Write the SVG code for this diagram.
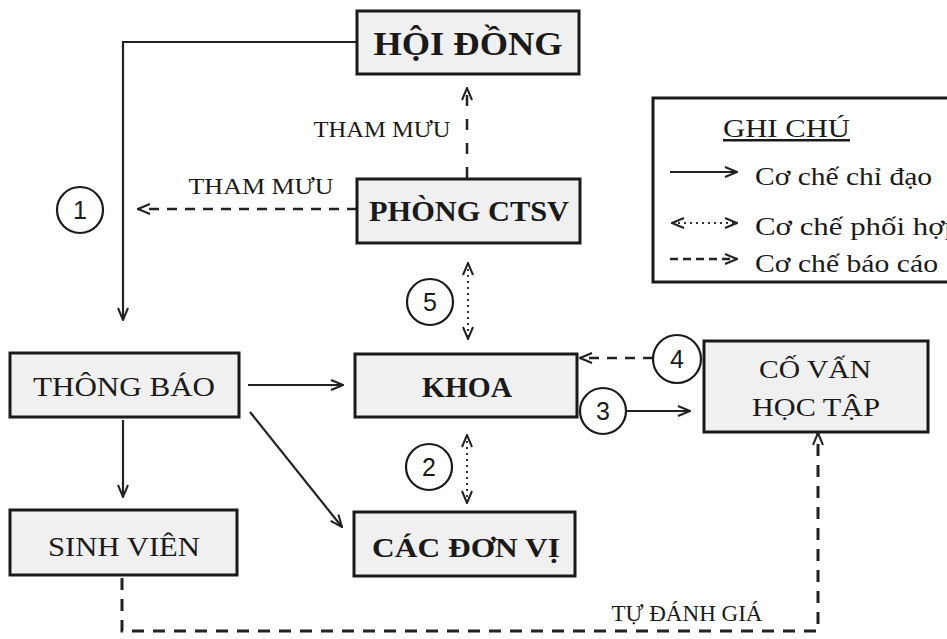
<svg xmlns="http://www.w3.org/2000/svg" width="947" height="639" viewBox="0 0 947 639">
<defs>
<marker id="ar" viewBox="0 0 14 12" refX="13" refY="6" markerWidth="14" markerHeight="12" markerUnits="userSpaceOnUse" orient="auto-start-reverse">
<path d="M1,1 L13,6 L1,11" fill="none" stroke="#222" stroke-width="2"/>
</marker>
<style>
.box{fill:#f0f0f0;stroke:#1a1a1a;stroke-width:3}
.t{font-family:"Liberation Serif","Times New Roman",serif;fill:#1a1a1a;text-anchor:middle}
.l{font-family:"Liberation Serif","Times New Roman",serif;fill:#1a1a1a}
.b{font-weight:bold}
.solid{stroke:#222;stroke-width:2.2;fill:none}
.dash{stroke:#222;stroke-width:2.5;fill:none;stroke-dasharray:10 8}
.dot{stroke:#333;stroke-width:2;fill:none;stroke-dasharray:2 4}
.num{font-family:"Liberation Sans",Arial,sans-serif;font-size:25px;text-anchor:middle;fill:#1a1a1a}
.circ{fill:#fff;stroke:#1a1a1a;stroke-width:2.2}
</style>
</defs>
<rect width="947" height="639" fill="#fff"/>

<g id="connectors">
<path class="solid" d="M357,42 H123 V320" marker-end="url(#ar)"/>
<path class="dash" style="stroke-dasharray:11 13" d="M467,178 V88" marker-end="url(#ar)"/>
<path class="dash" d="M357,209 H138" marker-end="url(#ar)"/>
<path class="dot" d="M468,263 V339" marker-start="url(#ar)" marker-end="url(#ar)"/>
<path class="dash" d="M653,358 H580" marker-end="url(#ar)"/>
<path class="solid" d="M627,411 H690" marker-end="url(#ar)"/>
<path class="solid" d="M248,385 H343" marker-end="url(#ar)"/>
<path class="solid" d="M250,412 L342,527" marker-end="url(#ar)"/>
<path class="solid" d="M123,420 V497" marker-end="url(#ar)"/>
<path class="dot" d="M467,435 V503" marker-start="url(#ar)" marker-end="url(#ar)"/>
<path class="dash" style="stroke-width:3;stroke-dasharray:12 9" d="M122,578 V631 H818 V433" marker-end="url(#ar)"/>
<text class="t" x="382" y="137" font-size="24" textLength="137" lengthAdjust="spacingAndGlyphs">THAM MƯU</text>
<text class="t" x="261" y="194" font-size="24" textLength="145" lengthAdjust="spacingAndGlyphs">THAM MƯU</text>
<text class="t" x="687" y="621" font-size="24" textLength="151" lengthAdjust="spacingAndGlyphs">TỰ ĐÁNH GIÁ</text>
</g>

<g id="c1"><circle class="circ" cx="80" cy="210" r="23"/><text class="num" x="80" y="219">1</text></g>
<g id="c5"><circle class="circ" cx="430" cy="302" r="23"/><text class="num" x="430" y="311">5</text></g>
<g id="c4"><circle class="circ" cx="677" cy="359" r="24"/><text class="num" x="677" y="368">4</text></g>
<g id="c3"><circle class="circ" cx="603" cy="411" r="23"/><text class="num" x="603" y="420">3</text></g>
<g id="c2"><circle class="circ" cx="429" cy="467" r="23"/><text class="num" x="429" y="476">2</text></g>

<g id="hoidong"><rect class="box" x="357" y="11" width="222" height="63"/><text class="t b" x="468" y="55" font-size="34" textLength="189" lengthAdjust="spacingAndGlyphs">HỘI ĐỒNG</text></g>
<g id="phongctsv"><rect class="box" x="357" y="179" width="223" height="64"/><text class="t b" x="469" y="221" font-size="29" textLength="200" lengthAdjust="spacingAndGlyphs">PHÒNG CTSV</text></g>
<g id="khoa"><rect class="box" x="355" y="354" width="222" height="63"/><text class="t b" x="467" y="397" font-size="29" textLength="90" lengthAdjust="spacingAndGlyphs">KHOA</text></g>
<g id="thongbao"><rect class="box" x="10" y="353" width="229" height="64"/><text class="t" x="124" y="396" font-size="28" textLength="182" lengthAdjust="spacingAndGlyphs">THÔNG BÁO</text></g>
<g id="sinhvien"><rect class="box" x="10" y="510" width="227" height="65"/><text class="t" x="124" y="556" font-size="28" textLength="152" lengthAdjust="spacingAndGlyphs">SINH VIÊN</text></g>
<g id="cacdonvi"><rect class="box" x="354" y="512" width="221" height="64"/><text class="t b" x="466" y="557" font-size="28" textLength="188" lengthAdjust="spacingAndGlyphs">CÁC ĐƠN VỊ</text></g>
<g id="covan"><rect class="box" x="704" y="341" width="224" height="91"/><text class="t" x="815" y="378" font-size="26" textLength="112" lengthAdjust="spacingAndGlyphs">CỐ VẤN</text><text class="t" x="816" y="416" font-size="26" textLength="128" lengthAdjust="spacingAndGlyphs">HỌC TẬP</text></g>

<g id="legend">
<rect x="653" y="98" width="310" height="184" fill="#fff" stroke="#1a1a1a" stroke-width="3"/>
<text class="l" x="723" y="137" font-size="25" textLength="127" lengthAdjust="spacingAndGlyphs" text-decoration="underline">GHI CHÚ</text>
<path class="solid" d="M670,172 H737" marker-end="url(#ar)"/>
<path class="dot" d="M672,223 H737" marker-start="url(#ar)" marker-end="url(#ar)"/>
<path class="dash" style="stroke-dasharray:8 5" d="M670,259 H737" marker-end="url(#ar)"/>
<text class="l" x="755" y="185" font-size="26" textLength="177" lengthAdjust="spacingAndGlyphs">Cơ chế chỉ đạo</text>
<text class="l" x="755" y="235" font-size="26" textLength="205" lengthAdjust="spacingAndGlyphs">Cơ chế phối hợp</text>
<text class="l" x="755" y="272" font-size="26" textLength="183" lengthAdjust="spacingAndGlyphs">Cơ chế báo cáo</text>
</g>
</svg>
